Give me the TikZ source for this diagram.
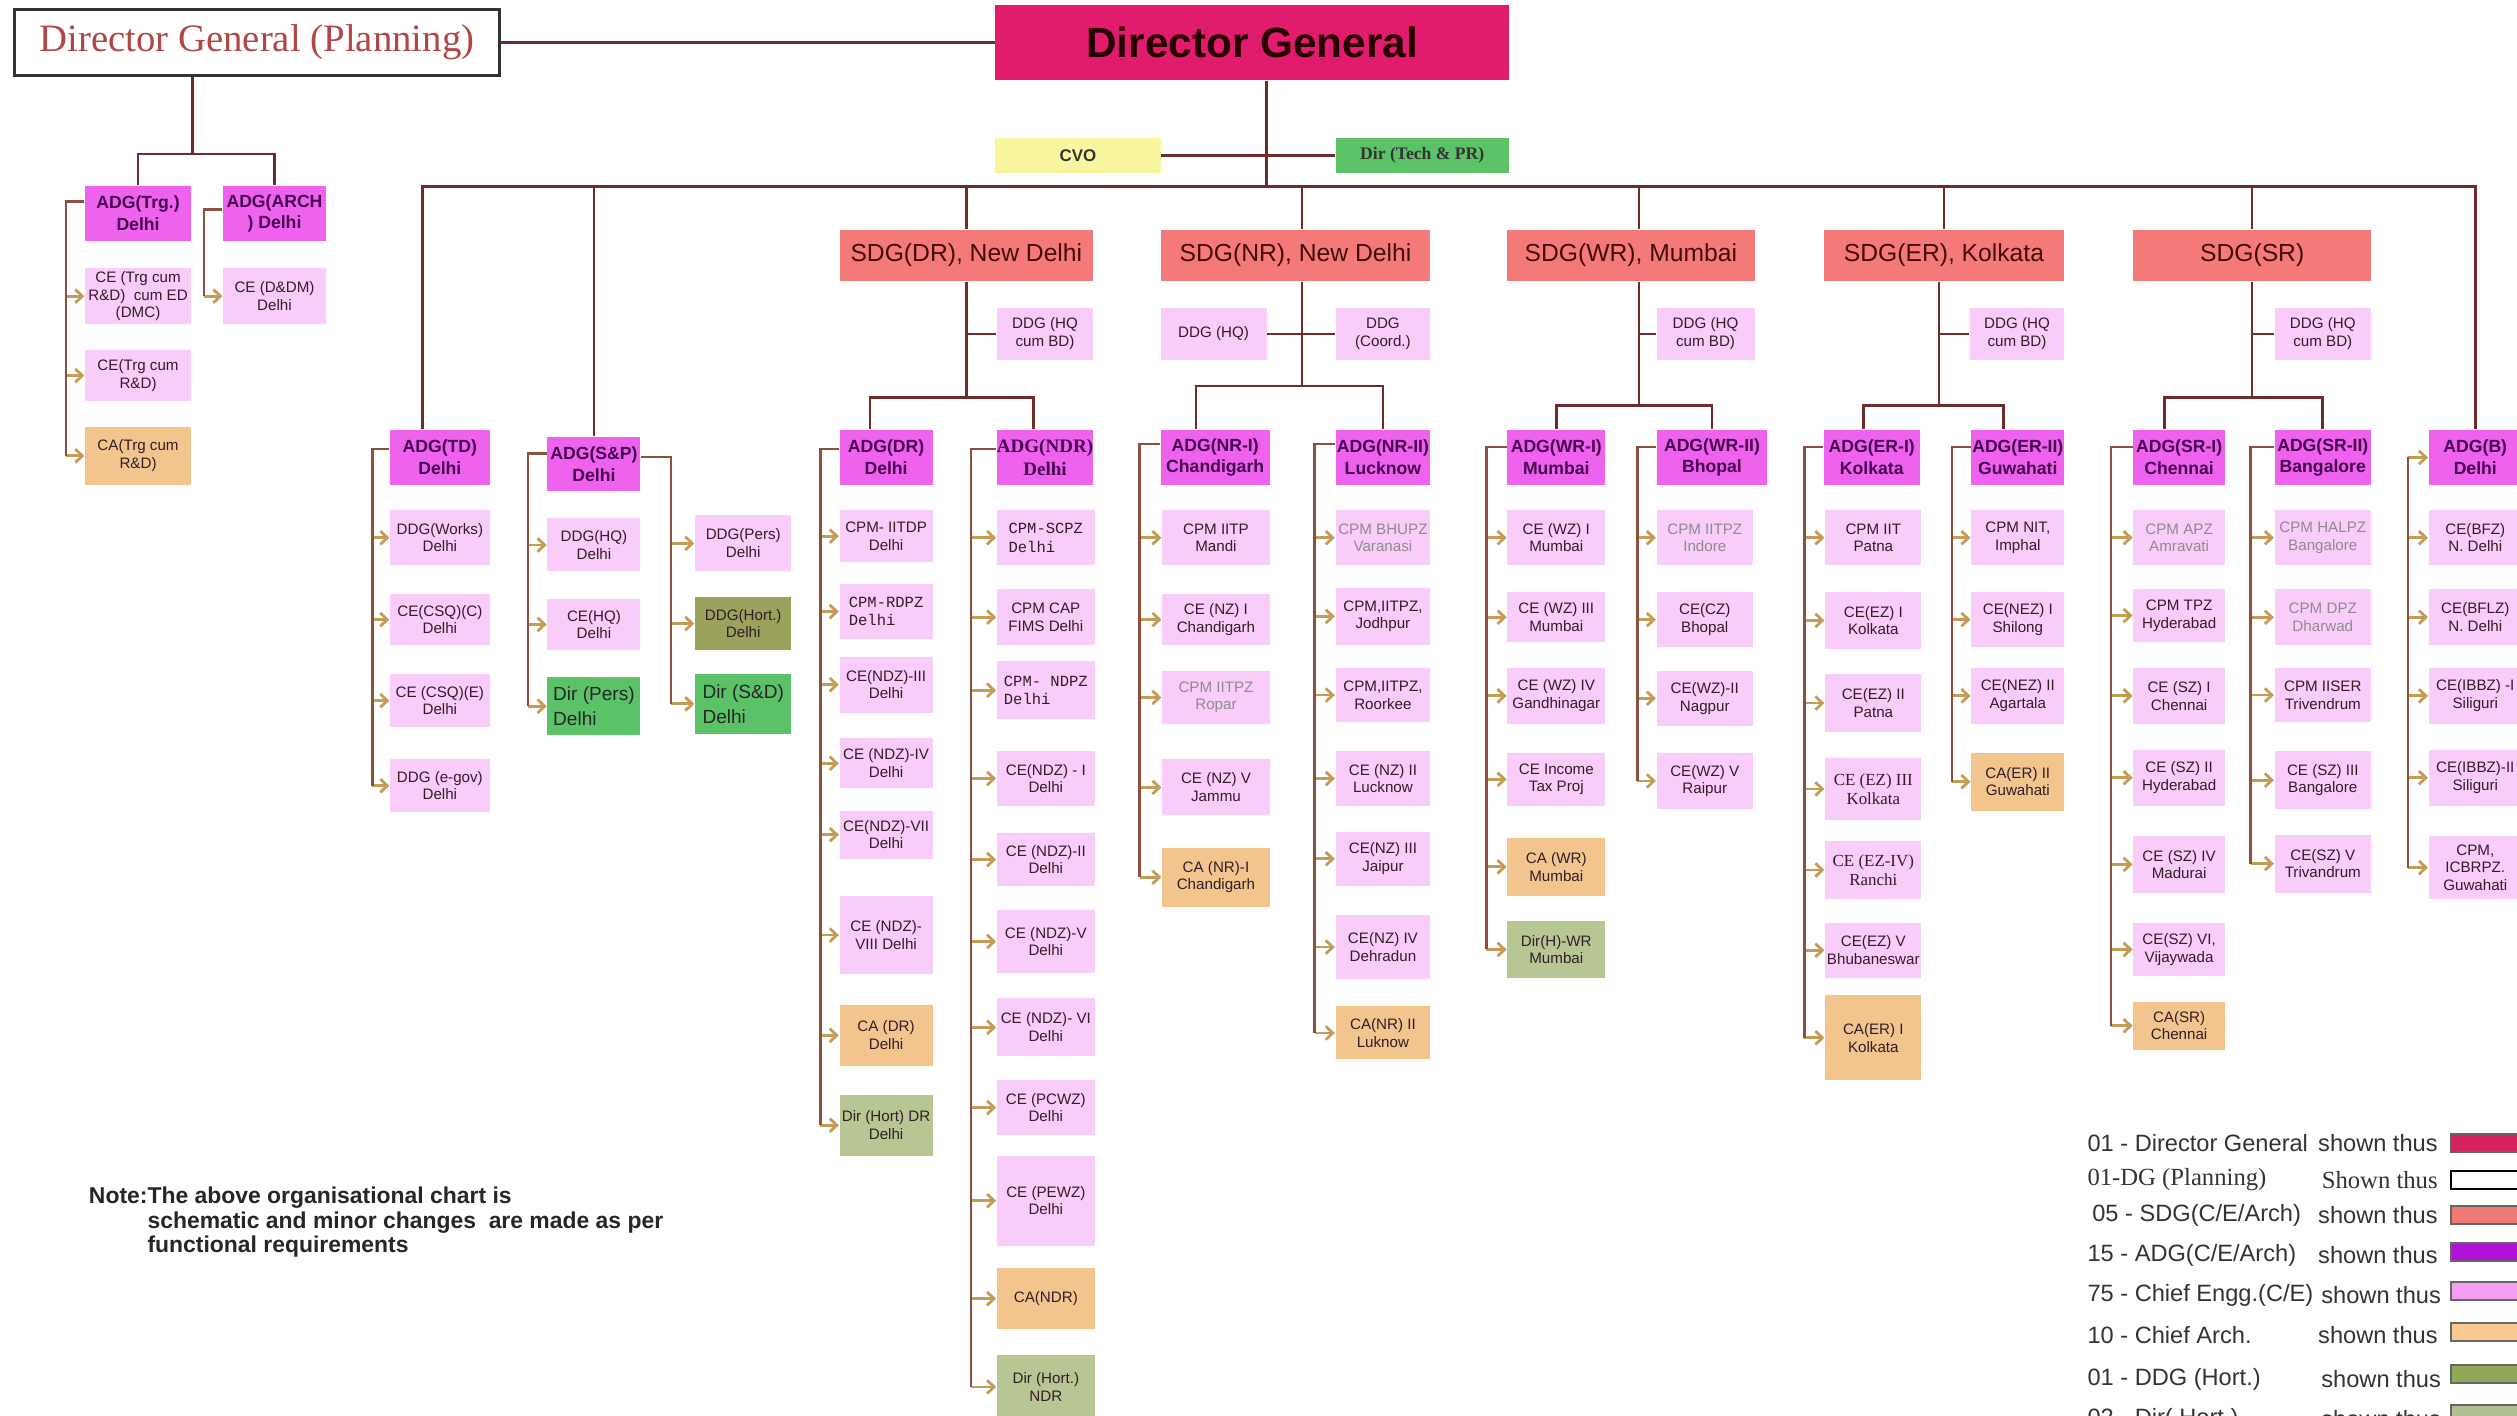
\documentclass[tikz,border=0pt]{standalone}
\usepackage{fontspec}
\setmainfont{Liberation Sans}
\newfontfamily\plainserif{Liberation Serif}
\newfontfamily\plainmono{Liberation Mono}
\usetikzlibrary{arrows.meta,calc}

\definecolor{dgcol}{RGB}{226,28,108}
\definecolor{sdgcol}{RGB}{244,122,122}
\definecolor{adgcol}{RGB}{238,98,238}
\definecolor{cecol}{RGB}{250,204,250}
\definecolor{cacol}{RGB}{242,196,142}
\definecolor{dircol}{RGB}{92,194,104}
\definecolor{hortcol}{RGB}{154,162,92}
\definecolor{hortlcol}{RGB}{184,198,148}
\definecolor{cvocol}{RGB}{250,246,160}
\definecolor{linecol}{RGB}{112,44,44}
\definecolor{spinecol}{RGB}{140,80,60}
\definecolor{arrcol}{RGB}{196,156,88}
\definecolor{boxtext}{RGB}{50,30,40}
\definecolor{adgtext}{RGB}{70,0,80}
\definecolor{sdgtext}{RGB}{70,10,10}
\definecolor{plantext}{RGB}{176,70,70}
\definecolor{legdg}{RGB}{214,34,96}
\definecolor{legsdg}{RGB}{240,120,118}
\definecolor{legadg}{RGB}{176,16,216}
\definecolor{legce}{RGB}{244,160,240}
\definecolor{legca}{RGB}{248,200,144}
\definecolor{leghort}{RGB}{144,168,88}
\definecolor{legdir}{RGB}{176,192,144}

\tikzset{
  kind/.style={#1},
  box/.style={inner sep=0pt, align=center, text=boxtext, font=\fontsize{4.3}{5}\selectfont},
  ce/.style={box, fill=cecol},
  ceg/.style={box, fill=cecol, text=black!45},
  cem/.style={box, fill=cecol, align=left, font=\plainmono\fontsize{4.4}{5.2}\selectfont},
  ces/.style={box, fill=cecol, font=\plainserif\fontsize{4.8}{5.4}\selectfont},
  ca/.style={box, fill=cacol},
  hort/.style={box, fill=hortcol},
  hortl/.style={box, fill=hortlcol},
  dirbox/.style={box, fill=dircol, align=left, text=black!85, font=\fontsize{5.4}{7}\selectfont},
  adg/.style={box, fill=adgcol, text=adgtext, font=\bfseries\fontsize{5}{6.2}\selectfont},
  adgs/.style={adg, font=\plainserif\bfseries\fontsize{5.4}{6.4}\selectfont},
  sdg/.style={box, fill=sdgcol, text=sdgtext, font=\fontsize{7}{8}\selectfont},
  dgbox/.style={box, fill=dgcol, text=black!85!red, font=\bfseries\fontsize{12}{14}\selectfont},
  plan/.style={box, draw=black!80, line width=0.8pt, fill=white, text=plantext, font=\plainserif\fontsize{11}{13}\selectfont},
  cvobox/.style={box, fill=cvocol, text=black!80, font=\bfseries\fontsize{4.8}{6}\selectfont},
  techbox/.style={box, fill=dircol, text=black!80, font=\plainserif\bfseries\fontsize{5}{6}\selectfont},
  link/.style={draw=linecol, line width=0.75pt},
  spine/.style={draw=spinecol, line width=0.7pt},
  arr/.style={draw=arrcol, line width=0.8pt, -{Straight Barb[length=2pt,width=3.8pt]}},
  legtext/.style={inner sep=0pt, text=black!80, font=\fontsize{6.7}{8}\selectfont},
  legserif/.style={legtext, font=\plainserif\fontsize{7}{8}\selectfont},
  swatch/.style={draw=black!60, line width=0.6pt, minimum width=0.672cm, minimum height=0.18cm, inner sep=0pt},
}

% box from its corners (x1,y1)-(x2,y2)
\newcommand{\orgbox}[7]{%
  \node[kind/.expanded=#2, minimum width={(#5-#3)*0.016cm}, minimum height={(#6-#4)*0.016cm}]
    (#1) at ({(#3+#5)/2},{(#4+#6)/2}) {#7};}
% one column of boxes fed from a spine
\newcommand{\kidcol}[4]{%
  \foreach \nm/\sty/\ya/\yb/\txt in {#4}{
    \orgbox{\nm}{\sty}{#2}{\ya}{#3}{\yb}{\txt}
    \draw[arr] (#1 |- \nm.west) -- (\nm.west);
  }}

\begin{document}
\begin{tikzpicture}[x=0.016cm, y=-0.016cm]
\useasboundingbox (0,0) rectangle (1568,882);
\clip (0,0) rectangle (1568,882);

\coordinate (bus) at (0,116);
\coordinate (trgspine) at (41,0);
\coordinate (archspine) at (127,0);
\coordinate (tdspine) at (232,0);
\coordinate (splspine) at (329,0);
\coordinate (sprspine) at (418,0);
\coordinate (drspine) at (511,0);
\coordinate (ndrspine) at (605,0);
\coordinate (nraspine) at (710,0);
\coordinate (nrbspine) at (819,0);
\coordinate (wraspine) at (926,0);
\coordinate (wrbspine) at (1020,0);
\coordinate (eraspine) at (1124,0);
\coordinate (erbspine) at (1216,0);
\coordinate (sraspine) at (1315,0);
\coordinate (srbspine) at (1402,0);
\coordinate (bspine) at (1500,0);

% top level
\orgbox{dgp}{plan}{9}{6}{311}{47}{Director General (Planning)}
\orgbox{dg}{dgbox}{620}{3}{940}{50}{Director General}
\orgbox{cvo}{cvobox}{620}{86}{723}{108}{CVO}
\orgbox{dirtp}{techbox}{832}{86}{940}{108}{Dir (Tech \& PR)}

% planning side
\orgbox{adgtrg}{adg}{53}{116}{119}{150}{ADG(Trg.)\\Delhi}
\orgbox{adgarch}{adg}{139}{116}{203}{150}{ADG(ARCH\\) Delhi}
\kidcol{trgspine}{53}{119}{trg1/ce/167/202/{CE (Trg cum\\R\&D)\ \ cum ED\\(DMC)},
  trg2/ce/218/250/{CE(Trg cum\\R\&D)}, trg3/ca/266/302/{CA(Trg cum\\R\&D)}}
\kidcol{archspine}{139}{203}{arch1/ce/167/202/{CE (D\&DM)\\Delhi}}

% TD and S&P
\orgbox{adgtd}{adg}{243}{268}{305}{302}{ADG(TD)\\Delhi}
\kidcol{tdspine}{243}{305}{td1/ce/318/352/{DDG(Works)\\Delhi}, td2/ce/370/402/{CE(CSQ)(C)\\Delhi},
  td3/ce/420/453/{CE (CSQ)(E)\\Delhi}, td4/ce/473/506/{DDG (e-gov)\\Delhi}}
\orgbox{adgsp}{adg}{341}{272}{399}{306}{ADG(S\&P)\\Delhi}
\kidcol{splspine}{341}{399}{sp1/ce/323/356/{DDG(HQ)\\Delhi}, sp2/ce/373/405/{CE(HQ)\\Delhi},
  sp3/dirbox/422/458/{Dir (Pers)\\Delhi}}
\kidcol{sprspine}{433}{493}{sp4/ce/321/356/{DDG(Pers)\\Delhi}, sp5/hort/372/405/{DDG(Hort.)\\Delhi},
  sp6/dirbox/420/457/{Dir (S\&D)\\Delhi}}

% DR
\orgbox{sdgdr}{sdg}{523}{143}{681}{175}{SDG(DR), New Delhi}
\orgbox{drddg}{ce}{621}{192}{681}{224}{DDG (HQ\\cum BD)}
\orgbox{adgdr}{adg}{523}{268}{581}{302}{ADG(DR)\\Delhi}
\orgbox{adgndr}{adgs}{621}{268}{681}{302}{ADG(NDR)\\Delhi}
\kidcol{drspine}{523}{581}{dr1/ce/318/350/{CPM- IITDP\\Delhi}, dr2/cem/364/398/{CPM-RDPZ\\Delhi},
  dr3/ce/409/444/{CE(NDZ)-III\\Delhi}, dr4/ce/460/491/{CE (NDZ)-IV\\Delhi},
  dr5/ce/505/535/{CE(NDZ)-VII\\Delhi}, dr6/ce/558/607/{CE (NDZ)-\\VIII Delhi},
  dr7/ca/626/664/{CA (DR)\\Delhi}, dr8/hortl/682/720/{Dir (Hort) DR\\Delhi}}
\kidcol{ndrspine}{621}{682}{ndr1/cem/318/352/{CPM-SCPZ\\Delhi}, ndr2/ce/367/402/{CPM CAP\\FIMS Delhi},
  ndr3/cem/412/448/{CPM- NDPZ\\Delhi}, ndr4/ce/468/502/{CE(NDZ) - I\\Delhi},
  ndr5/ce/519/552/{CE (NDZ)-II\\Delhi}, ndr6/ce/567/606/{CE (NDZ)-V\\Delhi},
  ndr7/ce/622/658/{CE (NDZ)- VI\\Delhi}, ndr8/ce/673/707/{CE (PCWZ)\\Delhi},
  ndr9/ce/720/776/{CE (PEWZ)\\Delhi}, ndr10/ca/790/828/{CA(NDR)},
  ndr11/hortl/844/884/{Dir (Hort.)\\NDR}}

% NR
\orgbox{sdgnr}{sdg}{723}{143}{891}{175}{SDG(NR), New Delhi}
\orgbox{nrhq}{ce}{723}{192}{789}{224}{DDG (HQ)}
\orgbox{nrco}{ce}{832}{192}{891}{224}{DDG\\(Coord.)}
\orgbox{adgnr1}{adg}{723}{268}{791}{302}{ADG(NR-I)\\Chandigarh}
\orgbox{adgnr2}{adg}{832}{268}{891}{302}{ADG(NR-II)\\Lucknow}
\kidcol{nraspine}{724}{791}{nra1/ce/318/352/{CPM IITP\\Mandi}, nra2/ce/370/402/{CE (NZ) I\\Chandigarh},
  nra3/ceg/418/451/{CPM IITPZ\\Ropar}, nra4/ce/473/508/{CE (NZ) V\\Jammu},
  nra5/ca/528/565/{CA (NR)-I\\Chandigarh}}
\kidcol{nrbspine}{832}{891}{nrb1/ceg/318/352/{CPM BHUPZ\\Varanasi}, nrb2/ce/366/402/{CPM,IITPZ,\\Jodhpur},
  nrb3/ce/416/450/{CPM,IITPZ,\\Roorkee}, nrb4/ce/468/502/{CE (NZ) II\\Lucknow},
  nrb5/ce/518/552/{CE(NZ) III\\Jaipur}, nrb6/ce/570/610/{CE(NZ) IV\\Dehradun},
  nrb7/ca/627/660/{CA(NR) II\\Luknow}}

% WR
\orgbox{sdgwr}{sdg}{939}{143}{1093}{175}{SDG(WR), Mumbai}
\orgbox{wrddg}{ce}{1032}{192}{1093}{224}{DDG (HQ\\cum BD)}
\orgbox{adgwr1}{adg}{939}{268}{1000}{302}{ADG(WR-I)\\Mumbai}
\orgbox{adgwr2}{adg}{1032}{268}{1101}{302}{ADG(WR-II)\\Bhopal}
\kidcol{wraspine}{939}{1000}{wra1/ce/318/352/{CE (WZ) I\\Mumbai}, wra2/ce/369/400/{CE (WZ) III\\Mumbai},
  wra3/ce/416/451/{CE (WZ) IV\\Gandhinagar}, wra4/ce/469/502/{CE Income\\Tax Proj},
  wra5/ca/522/558/{CA (WR)\\Mumbai}, wra6/hortl/574/609/{Dir(H)-WR\\Mumbai}}
\kidcol{wrbspine}{1032}{1092}{wrb1/ceg/318/352/{CPM IITPZ\\Indore}, wrb2/ce/369/403/{CE(CZ)\\Bhopal},
  wrb3/ce/418/452/{CE(WZ)-II\\Nagpur}, wrb4/ce/469/504/{CE(WZ) V\\Raipur}}

% ER
\orgbox{sdger}{sdg}{1136}{143}{1286}{175}{SDG(ER), Kolkata}
\orgbox{erddg}{ce}{1227}{192}{1286}{224}{DDG (HQ\\cum BD)}
\orgbox{adger1}{adg}{1136}{268}{1196}{302}{ADG(ER-I)\\Kolkata}
\orgbox{adger2}{adg}{1228}{268}{1286}{302}{ADG(ER-II)\\Guwahati}
\kidcol{eraspine}{1137}{1197}{era1/ce/318/352/{CPM IIT\\Patna}, era2/ce/369/404/{CE(EZ) I\\Kolkata},
  era3/ce/420/456/{CE(EZ) II\\Patna}, era4/ces/472/511/{CE (EZ) III\\Kolkata},
  era5/ces/524/560/{CE (EZ-IV)\\Ranchi}, era6/ce/575/609/{CE(EZ) V\\Bhubaneswar},
  era7/ca/620/673/{CA(ER) I\\Kolkata}}
\kidcol{erbspine}{1228}{1286}{erb1/ce/318/352/{CPM NIT,\\Imphal}, erb2/ce/369/403/{CE(NEZ) I\\Shilong},
  erb3/ce/416/451/{CE(NEZ) II\\Agartala}, erb4/ca/469/505/{CA(ER) II\\Guwahati}}

% SR
\orgbox{sdgsr}{sdg}{1329}{143}{1477}{175}{SDG(SR)}
\orgbox{srddg}{ce}{1417}{192}{1477}{224}{DDG (HQ\\cum BD)}
\orgbox{adgsr1}{adg}{1329}{268}{1386}{302}{ADG(SR-I)\\Chennai}
\orgbox{adgsr2}{adg}{1417}{268}{1477}{302}{ADG(SR-II)\\Bangalore}
\kidcol{sraspine}{1329}{1386}{sra1/ceg/318/352/{CPM APZ\\Amravati}, sra2/ce/367/400/{CPM TPZ\\Hyderabad},
  sra3/ce/416/451/{CE (SZ) I\\Chennai}, sra4/ce/467/502/{CE (SZ) II\\Hyderabad},
  sra5/ce/521/556/{CE (SZ) IV\\Madurai}, sra6/ce/575/608/{CE(SZ) VI,\\Vijaywada},
  sra7/ca/624/654/{CA(SR)\\Chennai}}
\kidcol{srbspine}{1417}{1477}{srb1/ceg/318/352/{CPM HALPZ\\Bangalore}, srb2/ceg/367/402/{CPM DPZ\\Dharwad},
  srb3/ce/416/450/{CPM IISER\\Trivendrum}, srb4/ce/468/504/{CE (SZ) III\\Bangalore},
  srb5/ce/520/556/{CE(SZ) V\\Trivandrum}}

% ADG(B)
\orgbox{adgb}{adg}{1513}{268}{1571}{302}{ADG(B)\\Delhi}
\kidcol{bspine}{1513}{1571}{b1/ce/318/352/{CE(BFZ)\\N. Delhi}, b2/ce/367/402/{CE(BFLZ)\\N. Delhi},
  b3/ce/416/451/{CE(IBBZ) -I\\Siliguri}, b4/ce/467/502/{CE(IBBZ)-II\\Siliguri},
  b5/ce/521/560/{CPM,\\ICBRPZ.\\Guwahati}}
\draw[arr] (bspine |- adgb.west) -- (adgb.west);

% main links
\draw[link] (dgp.east) -- (dg.west);
\draw[link] ($(dg.south)+(9,0)$) -- ($(dg.south |- bus)+(9,0)$);
\draw[link] (cvo.east) -- (dirtp.west);
\draw[link] ($(adgtd.north)+(-11,0)$) |- (bus -| adgb.north) -- (adgb.north);
\foreach \s in {adgsp,sdgdr,sdger,sdgsr} \draw[link] (\s.north) -- (\s.north |- bus);
\draw[link] ($(sdgnr.north)+(4,0)$) -- ($(sdgnr.north |- bus)+(4,0)$);
\draw[link] ($(sdgwr.north)+(5,0)$) -- ($(sdgwr.north |- bus)+(5,0)$);

\draw[link] ($(dgp.south)+(-40,0)$) -- ++(0,48) coordinate (pfork);
\draw[link] (adgtrg.north) |- (pfork) -| (adgarch.north);

\draw[link] (sdgdr.south) -- ++(0,72) coordinate (drfork);
\draw[link] ($(adgdr.north)+(-10,0)$) |- (drfork) -| ($(adgndr.north)+(-7,0)$);
\draw[link] (drfork |- drddg.west) -- (drddg.west);

\draw[link] ($(sdgnr.south)+(4,0)$) -- ++(0,65) coordinate (nrfork);
\draw[link] ($(adgnr1.north)+(-12,0)$) |- (nrfork) -| (adgnr2.north);
\draw[link] (nrhq.east) -- (nrco.west);

\draw[link] ($(sdgwr.south)+(5,0)$) -- ++(0,77) coordinate (wrfork);
\draw[link] (adgwr1.north) |- (wrfork) -| (adgwr2.north);
\draw[link] (wrfork |- wrddg.west) -- (wrddg.west);

\draw[link] ($(sdger.south)+(-3,0)$) -- ++(0,77) coordinate (erfork);
\draw[link] ($(adger1.north)+(-5,0)$) |- (erfork) -| ($(adger2.north)+(-9,0)$);
\draw[link] (erfork |- erddg.west) -- (erddg.west);

\draw[link] (sdgsr.south) -- ++(0,72) coordinate (srfork);
\draw[link] ($(adgsr1.north)+(-9,0)$) |- (srfork) -| (adgsr2.north);
\draw[link] (srfork |- srddg.west) -- (srddg.west);

% spines
\draw[spine] ($(adgtrg.north west)+(0,10)$) -| (trgspine |- trg3.west);
\draw[spine] ($(adgarch.north west)+(0,15)$) -| (archspine |- arch1.west);
\draw[spine] ($(adgtd.north west)+(0,12)$) -| (tdspine |- td4.west);
\draw[spine] ($(adgsp.north west)+(0,11)$) -| (splspine |- sp3.west);
\draw[spine] ($(adgsp.north east)+(0,13)$) -| (sprspine |- sp6.west);
\draw[spine] ($(adgdr.north west)+(0,12)$) -| (drspine |- dr8.west);
\draw[spine] ($(adgndr.north west)+(0,12)$) -| (ndrspine |- ndr11.west);
\draw[spine] ($(adgnr1.north west)+(0,9)$) -| (nraspine |- nra5.west);
\draw[spine] ($(adgnr2.north west)+(0,9)$) -| (nrbspine |- nrb7.west);
\draw[spine] ($(adgwr1.north west)+(0,11)$) -| (wraspine |- wra6.west);
\draw[spine] ($(adgwr2.north west)+(0,11)$) -| (wrbspine |- wrb4.west);
\draw[spine] ($(adger1.north west)+(0,11)$) -| (eraspine |- era7.west);
\draw[spine] ($(adger2.north west)+(0,11)$) -| (erbspine |- erb4.west);
\draw[spine] ($(adgsr1.north west)+(0,11)$) -| (sraspine |- sra7.west);
\draw[spine] ($(adgsr2.north west)+(0,11)$) -| (srbspine |- srb5.west);
\draw[spine] (bspine |- adgb.west) -- (bspine |- b5.west);

% note
\node[anchor=north west, inner sep=0pt, text=black!85, font=\bfseries\fontsize{6.5}{6.9}\selectfont] (note) at (55,739)
  {\begin{tabular}{@{}l@{}l@{}}Note:&The above organisational chart is\\
   &schematic and minor changes\ \ are made as per\\ &functional requirements\end{tabular}};

% legend
\node[legtext, anchor=west] (leg1) at (1300,712) {01 - Director General};
\node[legtext, anchor=east] (leg1s) at (1519,712) {shown thus};
\node[swatch, fill=legdg] (leg1k) at (1548,712) {};
\node[legserif, anchor=west] (leg2) at (1300,735) {01-DG (Planning)};
\node[legserif, anchor=east] (leg2s) at (1519,735) {Shown thus};
\node[swatch, fill=white, draw=black] (leg2k) at (1548,735) {};
\node[legtext, anchor=west] (leg3) at (1303,757) {05 - SDG(C/E/Arch)};
\node[legtext, anchor=east] (leg3s) at (1519,757) {shown thus};
\node[swatch, fill=legsdg] (leg3k) at (1548,757) {};
\node[legtext, anchor=west] (leg4) at (1300,782) {15 - ADG(C/E/Arch)};
\node[legtext, anchor=east] (leg4s) at (1519,782) {shown thus};
\node[swatch, fill=legadg] (leg4k) at (1548,780) {};
\node[legtext, anchor=west] (leg5) at (1300,807) {75 - Chief Engg.(C/E)};
\node[legtext, anchor=east] (leg5s) at (1521,807) {shown thus};
\node[swatch, fill=legce] (leg5k) at (1548,804) {};
\node[legtext, anchor=west] (leg6) at (1300,832) {10 - Chief Arch.};
\node[legtext, anchor=east] (leg6s) at (1519,832) {shown thus};
\node[swatch, fill=legca] (leg6k) at (1548,830) {};
\node[legtext, anchor=west] (leg7) at (1300,859) {01 - DDG (Hort.)};
\node[legtext, anchor=east] (leg7s) at (1521,859) {shown thus};
\node[swatch, fill=leghort] (leg7k) at (1548,856) {};
\node[legtext, anchor=west] (leg8) at (1300,884) {02 - Dir( Hort.)};
\node[legtext, anchor=east] (leg8s) at (1521,884) {shown thus};
\node[swatch, fill=legdir] (leg8k) at (1548,881) {};
\end{tikzpicture}
\end{document}
